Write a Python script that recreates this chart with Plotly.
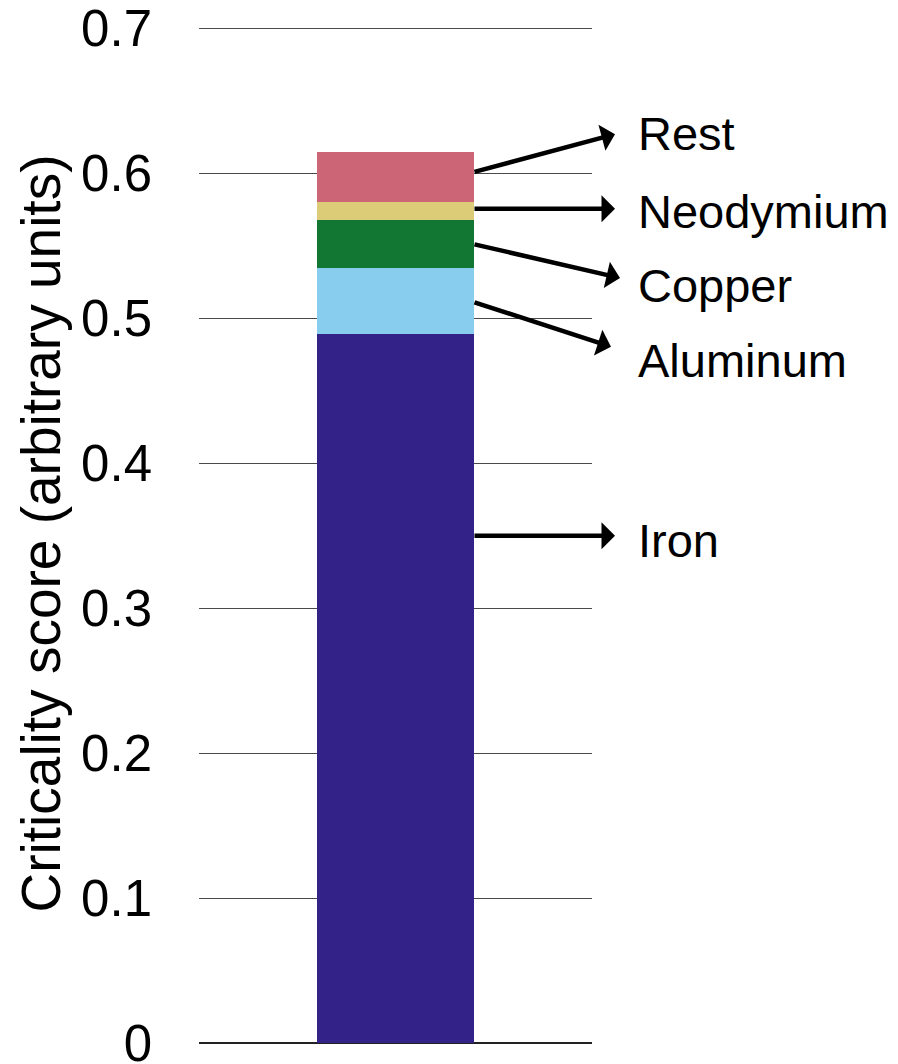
import plotly.graph_objects as go

# Stacked criticality contributions for a single product
materials = ["Iron", "Aluminum", "Copper", "Neodymium", "Rest"]
scores = [0.489, 0.0455, 0.033, 0.013, 0.034]
colors = ["#332288", "#88CCEE", "#117733", "#DDCC77", "#CC6677"]

# Where each callout arrow leaves the bar (score units) and its pixel offset to the head
arrow_from = [0.350, 0.511, 0.551, 0.5755, 0.601]
arrow_dx = [142, 138, 147, 142, 142]
arrow_dy = [0, 45, 34, 0, -38]
# Vertical position of each callout label (score units)
label_at = [0.3467, 0.4708, 0.5226, 0.5736, 0.6274]

y_ticks = [0, 0.1, 0.2, 0.3, 0.4, 0.5, 0.6, 0.7]
bar_width = 0.402
y_top = 0.703

FONT = "Liberation Sans, Arial, sans-serif"

fig = go.Figure()
for name, val, col in zip(materials, scores, colors):
    fig.add_trace(go.Bar(
        x=[0], y=[val], name=name, width=bar_width,
        marker=dict(color=col, line=dict(width=0)),
        showlegend=False, hoverinfo="name+y",
    ))

for name, y0, dx, dy, ly in zip(materials, arrow_from, arrow_dx, arrow_dy, label_at):
    fig.add_annotation(
        x=bar_width / 2, y=y0, xref="x", yref="y",
        ax=dx, ay=dy, axref="pixel", ayref="pixel",
        text="", showarrow=True, arrowside="start",
        arrowhead=2, arrowsize=1, arrowwidth=4.5, arrowcolor="black",
    )
    fig.add_annotation(
        x=1.111, y=ly, xref="paper", yref="y",
        text=name, showarrow=False, xanchor="left", yanchor="middle",
        font=dict(family=FONT, size=47, color="black"),
    )

fig.update_layout(
    barmode="stack",
    width=898, height=1064,
    margin=dict(l=199, r=306, t=24, b=21, autoexpand=False),
    plot_bgcolor="white", paper_bgcolor="white",
    font=dict(family=FONT, color="black"),
    xaxis=dict(range=[-0.5, 0.5], visible=False, showgrid=False, zeroline=False),
    yaxis=dict(
        range=[0, y_top], tickvals=y_ticks, ticktext=[f"{v:g}" for v in y_ticks],
        automargin=False, ticklabeloverflow="allow",
        showgrid=True, gridcolor="#4a4a4a", gridwidth=1.3,
        zeroline=True, zerolinecolor="#222222", zerolinewidth=1.6,
        showline=False, ticks="", ticklabelstandoff=46,
        tickfont=dict(family=FONT, size=51, color="black"),
        title=dict(text="Criticality score (arbitrary units)",
                   font=dict(family=FONT, size=55, color="black"), standoff=2),
    ),
)

fig.write_html("out.html")
